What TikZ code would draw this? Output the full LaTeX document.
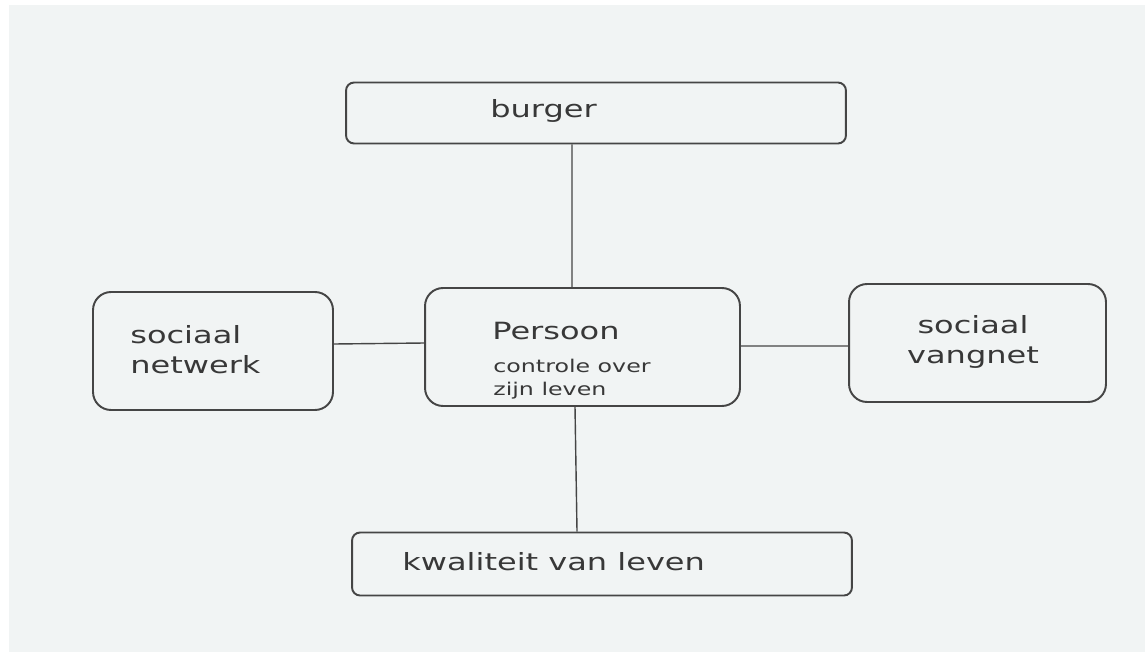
\documentclass[tikz,border=0pt]{standalone}
\usepackage{fontspec}
\newfontfamily\diafont[FakeStretch=1.35]{DejaVu Sans}
\definecolor{scanbg}{HTML}{F1F4F4}
\definecolor{inkline}{HTML}{454545}
\definecolor{inktext}{HTML}{383838}

\begin{document}
\begin{tikzpicture}[x=0.02cm,y=-0.02cm,
    bigbox/.style={draw=inkline,line width=1.1pt,rounded corners=0.36cm,inner sep=0pt,minimum height=2.36cm},
    flatbox/.style={draw=inkline,line width=1.1pt,rounded corners=0.16cm,inner sep=0pt,minimum width=10cm},
    lbl/.style={inner sep=0pt,text=inktext,font=\diafont\fontsize{13.5}{17}\selectfont},
    sublbl/.style={inner sep=0pt,text=inktext,align=left,font=\diafont\fontsize{10}{13}\selectfont},
    link/.style={draw=inkline,line width=0.8pt}]
                    \useasboundingbox (0,0) rectangle (1145,652);
                    \fill[white] (0,0) rectangle (1145,652);
                    \fill[scanbg] (9,5) rectangle (1145,652);

                    \path
                    (596,113) node[flatbox,minimum height=1.22cm](burger) {}
                    (213,351) node[bigbox,minimum width=4.8cm](netwerk) {}
                    (582.5,347) node[bigbox,minimum width=6.3cm](persoon) {}
                    (977.5,343) node[bigbox,minimum width=5.14cm](vangnet) {}
                    (602,564) node[flatbox,minimum height=1.26cm](kwaliteit) {};

                    \path
                    (490,117) node[lbl,anchor=base west](burgertxt) {burger}
                    (130,325) node[lbl,anchor=north west,align=left](netwerktxt) {sociaal\\netwerk}
                    (492,339) node[lbl,anchor=base west](persoontxt) {Persoon}
                    (493,395) node[sublbl,anchor=base west](controletxt) {controle over\\zijn leven}
                    (973,315) node[lbl,anchor=north,align=center](vangnettxt) {sociaal\\vangnet}
                    (402,570) node[lbl,anchor=base west](kwaliteittxt) {kwaliteit van leven};

                    \draw[link] ([xshift=-0.48cm]burger.south) -- ([xshift=-0.21cm]persoon.north);
                    \draw[link] ([xshift=-0.15cm]persoon.south) -- ([xshift=-0.5cm]kwaliteit.north);
                    \draw[link] ([yshift=0.14cm]netwerk.east) -- ([yshift=0.08cm]persoon.west);
                    \draw[link] ([yshift=0.02cm]persoon.east) -- ([yshift=-0.06cm]vangnet.west);
                \end{tikzpicture}
\end{document}
